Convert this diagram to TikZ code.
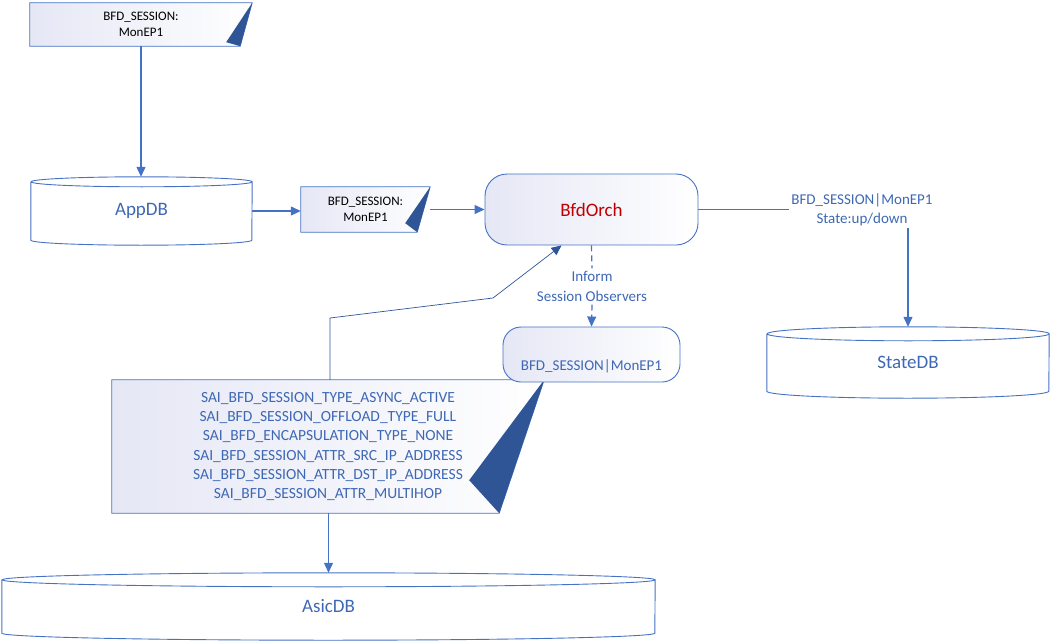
\documentclass[tikz,border=0pt]{standalone}
\usepackage{fontspec}
\setmainfont{Carlito}
\usetikzlibrary{arrows.meta,positioning,calc,backgrounds}

\definecolor{linecol}{RGB}{68,114,196}
\definecolor{curlcol}{RGB}{47,85,151}
\definecolor{txtcol}{RGB}{62,104,180}
\definecolor{orchred}{RGB}{192,0,0}
\definecolor{shadecol}{RGB}{229,231,245}

\tikzset{
  >={Triangle[length=10pt,width=9pt]},
  flow/.style={draw=linecol,line width=1.2pt,->},
  conn/.style={draw=linecol,line width=1.2pt},
  thinflow/.style={draw=curlcol,line width=0.7pt,->},
  dbline/.style={draw=linecol,line width=0.9pt},
  dbnode/.style={inner sep=0pt,text=txtcol,font=\fontsize{19}{23}\selectfont},
  notetxt/.style={inner sep=0pt,align=center,font=\fontsize{13}{15.5}\selectfont},
  notefill/.style={draw=linecol,line width=0.8pt,left color=shadecol,right color=white},
  procbox/.style={draw=linecol,line width=0.9pt,rounded corners=#1,left color=shadecol,right color=white,inner sep=0pt},
  lbl/.style={text=txtcol,align=center,inner sep=2pt,font=\fontsize{15}{19.3}\selectfont}
}

% note with a page curl, drawn behind its text
\newcommand{\pagecurl}[4]{%
  \begin{pgfonlayer}{background}
  \path[notefill] (#1.north west) -- (#1.north east) -- ([xshift=-#2pt]#1.south east) -- (#1.south west) -- cycle;
  \fill[curlcol] (#1.north east) -- ([xshift=-#3pt,yshift=#4pt]#1.south east) -- ([xshift=-#2pt]#1.south east) -- cycle;
  \end{pgfonlayer}}

% database cylinder round a node
\newcommand{\dbshape}[3]{%
  \draw[dbline] ([yshift=-#3pt]#1.north west) -- ([yshift=#3pt]#1.south west)
    arc[start angle=180,end angle=360,x radius=#2pt,y radius=#3pt]
    -- ([yshift=-#3pt]#1.north east)
    arc[start angle=0,end angle=180,x radius=#2pt,y radius=#3pt]
    arc[start angle=180,end angle=360,x radius=#2pt,y radius=#3pt];}

\begin{document}
\begin{tikzpicture}[x=1pt,y=1pt]
\useasboundingbox (0,0) rectangle (1052,-642);

% notes
\node[notetxt,minimum width=222pt,minimum height=43pt] (note1) at (141,-24.5) {BFD\_SESSION:\\MonEP1};
\pagecurl{note1}{12}{26}{4}
\node[notetxt,minimum width=129pt,minimum height=45pt] (note2) at (365.5,-209.5) {BFD\_SESSION:\\MonEP1};
\pagecurl{note2}{13}{25}{9}
\node[lbl,inner sep=0pt,minimum width=432pt,minimum height=133pt,font=\fontsize{15.5}{19.3}\selectfont] (sai) at (328,-446.5)
  {SAI\_BFD\_SESSION\_TYPE\_ASYNC\_ACTIVE\\
   SAI\_BFD\_SESSION\_OFFLOAD\_TYPE\_FULL\\
   SAI\_BFD\_ENCAPSULATION\_TYPE\_NONE\\
   SAI\_BFD\_SESSION\_ATTR\_SRC\_IP\_ADDRESS\\
   SAI\_BFD\_SESSION\_ATTR\_DST\_IP\_ADDRESS\\
   SAI\_BFD\_SESSION\_ATTR\_MULTIHOP};
\pagecurl{sai}{45}{75}{33}

% databases
\node[dbnode,minimum width=221pt,minimum height=68pt] (appdb) at (141.5,-211) {AppDB};
\dbshape{appdb}{110.5}{5}
\node[dbnode,minimum width=282pt,minimum height=71pt] (statedb) at (908,-362.5) {StateDB};
\dbshape{statedb}{141}{7}
\node[dbnode,minimum width=653pt,minimum height=67pt] (asicdb) at (328.5,-606.5) {AsicDB};
\dbshape{asicdb}{326.5}{7}

% orchagent and session
\node[procbox=22pt,minimum width=213pt,minimum height=71pt,text=orchred,font=\fontsize{19}{23}\selectfont] (orch) at (591.5,-209.5) {BfdOrch};
\node[procbox=18pt,minimum width=177pt,minimum height=55pt,
  label={[lbl,above=7pt]south:BFD\_SESSION|MonEP1}] (sess) at (591.5,-354.5) {};

\node[lbl] (statelbl) at (862,-209.5) {BFD\_SESSION|MonEP1\\State:up/down};
\node[lbl,inner sep=3pt] (inform) at (592,-286.5) {Inform\\Session Observers};

\coordinate (upbend) at (330,-318);
\coordinate (midbend) at (493,-298);

\draw[flow] (note1.south) -- (note1.south |- appdb.north);
\draw[flow] (appdb.east) -- (appdb.east -| note2.west);
\draw[flow] (note2.east) -- (orch.west);
\draw[conn] (orch.east) -- (statelbl.west);
\draw[flow] (statelbl.south -| statedb.north) -- (statedb.north);
\draw[conn,dash pattern=on 6pt off 4pt] (orch.south) -- (inform.north);
\draw[flow,dash pattern=on 6pt off 4pt] (inform.south) -- (sess.north);
\draw[thinflow] (upbend |- sai.north) -- (upbend) -- (midbend) -- ([xshift=-30pt]orch.south);
\draw[flow] (sai.south -| asicdb.north) -- (asicdb.north);

\end{tikzpicture}
\end{document}
